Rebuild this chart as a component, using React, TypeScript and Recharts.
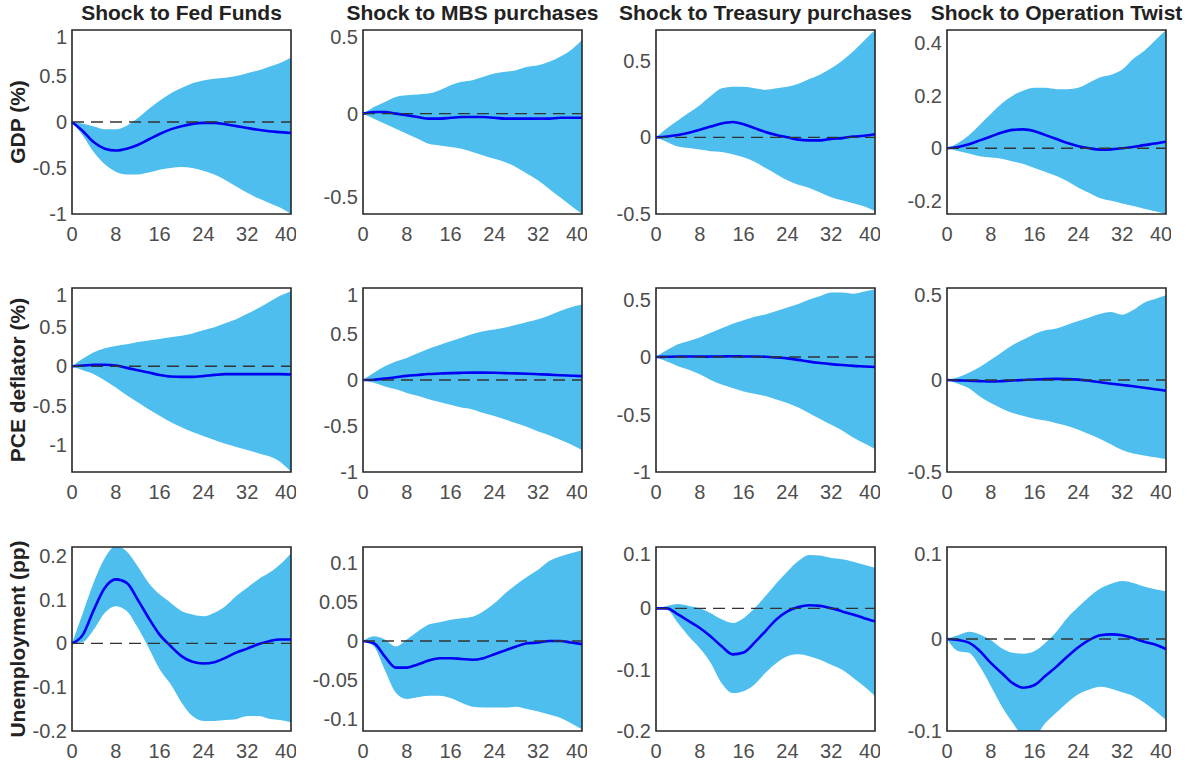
import React from "react";
import {
  ComposedChart,
  Area,
  Line,
  XAxis,
  YAxis,
  ReferenceLine,
  ReferenceArea,
} from "recharts";

// horizon in quarters (read every 2 quarters)
const quarters = [0, 2, 4, 6, 8, 10, 12, 14, 16, 18, 20, 22, 24, 26, 28, 30, 32, 34, 36, 38, 40];
const xTicks = [0, 8, 16, 24, 32, 40];

const shocks = [
  "Shock to Fed Funds",
  "Shock to MBS purchases",
  "Shock to Treasury purchases",
  "Shock to Operation Twist",
];
const variables = ["GDP (%)", "PCE deflator (%)", "Unemployment (pp)"];

// GDP
const gdpFedMid = [0, -0.1, -0.22, -0.29, -0.31, -0.29, -0.25, -0.19, -0.13, -0.08, -0.045, -0.02, -0.01, -0.01, -0.025, -0.045, -0.065, -0.085, -0.1, -0.11, -0.12];
const gdpFedHi = [0, -0.02, -0.05, -0.08, -0.08, -0.04, 0.04, 0.14, 0.23, 0.31, 0.37, 0.42, 0.45, 0.47, 0.48, 0.5, 0.53, 0.56, 0.6, 0.64, 0.7];
const gdpFedLo = [0, -0.15, -0.33, -0.46, -0.54, -0.57, -0.57, -0.55, -0.52, -0.5, -0.49, -0.5, -0.53, -0.57, -0.63, -0.7, -0.77, -0.83, -0.88, -0.93, -1.0];

const gdpMbsMid = [0, 0.01, 0.01, 0.0, -0.01, -0.02, -0.03, -0.03, -0.025, -0.02, -0.02, -0.02, -0.025, -0.03, -0.03, -0.03, -0.03, -0.03, -0.025, -0.025, -0.025];
const gdpMbsHi = [0, 0.04, 0.07, 0.1, 0.11, 0.115, 0.12, 0.14, 0.17, 0.19, 0.2, 0.22, 0.24, 0.25, 0.26, 0.28, 0.29, 0.31, 0.34, 0.38, 0.44];
const gdpMbsLo = [0, -0.03, -0.06, -0.09, -0.12, -0.15, -0.18, -0.19, -0.2, -0.21, -0.23, -0.25, -0.27, -0.29, -0.32, -0.36, -0.4, -0.45, -0.5, -0.55, -0.6];

const gdpTsyMid = [0, 0.005, 0.015, 0.03, 0.05, 0.07, 0.09, 0.1, 0.085, 0.06, 0.035, 0.015, 0.0, -0.015, -0.02, -0.02, -0.01, -0.005, 0.005, 0.01, 0.02];
const gdpTsyHi = [0, 0.06, 0.11, 0.16, 0.21, 0.27, 0.32, 0.33, 0.33, 0.32, 0.31, 0.32, 0.33, 0.35, 0.38, 0.41, 0.45, 0.5, 0.56, 0.63, 0.7];
const gdpTsyLo = [0, -0.03, -0.06, -0.07, -0.08, -0.09, -0.095, -0.11, -0.13, -0.16, -0.2, -0.24, -0.28, -0.31, -0.33, -0.36, -0.39, -0.41, -0.43, -0.45, -0.48];

const gdpTwistMid = [0, 0.005, 0.015, 0.03, 0.045, 0.06, 0.07, 0.072, 0.065, 0.05, 0.035, 0.02, 0.008, 0.0, -0.005, -0.004, 0.0, 0.005, 0.012, 0.018, 0.025];
const gdpTwistHi = [0, 0.02, 0.05, 0.09, 0.13, 0.17, 0.2, 0.22, 0.23, 0.23, 0.225, 0.225, 0.23, 0.25, 0.27, 0.28, 0.3, 0.34, 0.37, 0.41, 0.45];
const gdpTwistLo = [0, -0.01, -0.02, -0.03, -0.035, -0.04, -0.05, -0.06, -0.075, -0.09, -0.105, -0.125, -0.15, -0.17, -0.19, -0.2, -0.21, -0.22, -0.23, -0.24, -0.25];

// PCE deflator
const pceFedMid = [0, 0.01, 0.02, 0.02, 0.01, -0.02, -0.05, -0.08, -0.11, -0.13, -0.135, -0.135, -0.125, -0.11, -0.1, -0.1, -0.1, -0.1, -0.1, -0.1, -0.105];
const pceFedHi = [0, 0.1, 0.18, 0.23, 0.26, 0.28, 0.31, 0.33, 0.35, 0.37, 0.39, 0.42, 0.46, 0.5, 0.55, 0.6, 0.67, 0.74, 0.82, 0.9, 0.96];
const pceFedLo = [0, -0.05, -0.1, -0.18, -0.27, -0.37, -0.46, -0.55, -0.63, -0.71, -0.78, -0.84, -0.89, -0.94, -0.99, -1.03, -1.07, -1.11, -1.15, -1.22, -1.35];

const pceMbsMid = [0, 0.003, 0.015, 0.03, 0.045, 0.055, 0.065, 0.07, 0.075, 0.078, 0.08, 0.08, 0.078, 0.075, 0.072, 0.068, 0.063, 0.058, 0.052, 0.047, 0.042];
const pceMbsHi = [0, 0.08, 0.15, 0.2, 0.24, 0.29, 0.34, 0.38, 0.42, 0.46, 0.5, 0.53, 0.55, 0.57, 0.6, 0.63, 0.66, 0.7, 0.75, 0.79, 0.82];
const pceMbsLo = [0, -0.03, -0.07, -0.1, -0.14, -0.17, -0.21, -0.24, -0.27, -0.3, -0.32, -0.36, -0.39, -0.43, -0.47, -0.51, -0.56, -0.6, -0.65, -0.7, -0.76];

const pceTsyMid = [0, 0.002, 0.004, 0.005, 0.003, 0.004, 0.005, 0.006, 0.005, 0.004, 0.002, -0.005, -0.012, -0.025, -0.04, -0.052, -0.062, -0.07, -0.077, -0.082, -0.087];
const pceTsyHi = [0, 0.06, 0.11, 0.14, 0.17, 0.21, 0.25, 0.29, 0.32, 0.35, 0.37, 0.4, 0.43, 0.46, 0.5, 0.53, 0.56, 0.56, 0.55, 0.57, 0.59];
const pceTsyLo = [0, -0.04, -0.08, -0.11, -0.15, -0.2, -0.24, -0.27, -0.3, -0.32, -0.34, -0.37, -0.4, -0.44, -0.49, -0.54, -0.59, -0.64, -0.7, -0.75, -0.8];

const pceTwistMid = [0, -0.002, -0.004, -0.006, -0.008, -0.006, -0.003, 0.0, 0.003, 0.005, 0.006, 0.005, 0.002, -0.004, -0.012, -0.02, -0.027, -0.034, -0.042, -0.05, -0.058];
const pceTwistHi = [0, 0.015, 0.04, 0.07, 0.11, 0.15, 0.19, 0.22, 0.25, 0.27, 0.28, 0.3, 0.32, 0.34, 0.36, 0.37, 0.355, 0.38, 0.42, 0.44, 0.46];
const pceTwistLo = [0, -0.02, -0.045, -0.09, -0.125, -0.155, -0.18, -0.195, -0.21, -0.22, -0.235, -0.25, -0.27, -0.295, -0.32, -0.35, -0.38, -0.4, -0.41, -0.42, -0.43];

// Unemployment
const unFedMid = [0, 0.02, 0.077, 0.127, 0.146, 0.138, 0.1, 0.058, 0.02, -0.006, -0.029, -0.042, -0.046, -0.043, -0.033, -0.021, -0.012, -0.002, 0.005, 0.009, 0.009];
const unFedHi = [0, 0.07, 0.14, 0.195, 0.222, 0.21, 0.176, 0.138, 0.112, 0.093, 0.074, 0.066, 0.062, 0.07, 0.085, 0.108, 0.127, 0.146, 0.161, 0.18, 0.206];
const unFedLo = [0, 0.003, 0.032, 0.07, 0.085, 0.074, 0.036, -0.01, -0.059, -0.093, -0.135, -0.166, -0.177, -0.177, -0.175, -0.173, -0.166, -0.166, -0.172, -0.175, -0.18];

const unMbsMid = [0, -0.003, -0.02, -0.034, -0.034, -0.03, -0.025, -0.022, -0.022, -0.023, -0.024, -0.022, -0.017, -0.012, -0.007, -0.003, -0.002, 0, 0, -0.002, -0.004];
const unMbsHi = [0, 0.006, 0.002, -0.007, 0.002, 0.012, 0.021, 0.024, 0.027, 0.029, 0.031, 0.038, 0.048, 0.061, 0.072, 0.082, 0.091, 0.102, 0.108, 0.112, 0.116];
const unMbsLo = [0, -0.007, -0.037, -0.066, -0.074, -0.072, -0.07, -0.07, -0.073, -0.079, -0.084, -0.085, -0.085, -0.085, -0.084, -0.087, -0.09, -0.094, -0.098, -0.105, -0.113];

const unTsyMid = [0, 0, -0.01, -0.021, -0.032, -0.046, -0.062, -0.075, -0.072, -0.056, -0.037, -0.018, -0.005, 0.002, 0.005, 0.004, 0.0, -0.005, -0.01, -0.016, -0.021];
const unTsyHi = [0, 0.004, 0.007, 0.004, 0.0, -0.008, -0.018, -0.024, -0.016, 0.0, 0.02, 0.041, 0.06, 0.077, 0.087, 0.086, 0.082, 0.08, 0.076, 0.071, 0.066];
const unTsyLo = [0, -0.002, -0.024, -0.046, -0.065, -0.089, -0.122, -0.138, -0.135, -0.124, -0.105, -0.089, -0.078, -0.075, -0.078, -0.084, -0.092, -0.1, -0.113, -0.127, -0.143];

const unTwistMid = [0, -0.001, -0.004, -0.013, -0.026, -0.037, -0.048, -0.053, -0.05, -0.04, -0.03, -0.019, -0.009, -0.001, 0.004, 0.005, 0.004, 0.001, -0.003, -0.006, -0.011];
const unTwistHi = [0, 0.004, 0.008, 0.005, -0.001, -0.01, -0.015, -0.016, -0.013, -0.004, 0.008, 0.023, 0.035, 0.046, 0.055, 0.06, 0.063, 0.061, 0.057, 0.054, 0.052];
const unTwistLo = [0, -0.013, -0.015, -0.03, -0.051, -0.073, -0.091, -0.105, -0.105, -0.091, -0.08, -0.069, -0.06, -0.055, -0.052, -0.054, -0.058, -0.062, -0.069, -0.078, -0.088];

type Panel = {
  mid: number[];
  lo: number[];
  hi: number[];
  domain: [number, number];
  ticks: number[];
};

const panels: Panel[][] = [
  [
    { mid: gdpFedMid, lo: gdpFedLo, hi: gdpFedHi, domain: [-1, 1], ticks: [-1, -0.5, 0, 0.5, 1] },
    { mid: gdpMbsMid, lo: gdpMbsLo, hi: gdpMbsHi, domain: [-0.6, 0.5], ticks: [-0.5, 0, 0.5] },
    { mid: gdpTsyMid, lo: gdpTsyLo, hi: gdpTsyHi, domain: [-0.5, 0.7], ticks: [-0.5, 0, 0.5] },
    { mid: gdpTwistMid, lo: gdpTwistLo, hi: gdpTwistHi, domain: [-0.25, 0.45], ticks: [-0.2, 0, 0.2, 0.4] },
  ],
  [
    { mid: pceFedMid, lo: pceFedLo, hi: pceFedHi, domain: [-1.35, 1], ticks: [-1, -0.5, 0, 0.5, 1] },
    { mid: pceMbsMid, lo: pceMbsLo, hi: pceMbsHi, domain: [-1, 1], ticks: [-1, -0.5, 0, 0.5, 1] },
    { mid: pceTsyMid, lo: pceTsyLo, hi: pceTsyHi, domain: [-1, 0.6], ticks: [-1, -0.5, 0, 0.5] },
    { mid: pceTwistMid, lo: pceTwistLo, hi: pceTwistHi, domain: [-0.5, 0.5], ticks: [-0.5, 0, 0.5] },
  ],
  [
    { mid: unFedMid, lo: unFedLo, hi: unFedHi, domain: [-0.2, 0.22], ticks: [-0.2, -0.1, 0, 0.1, 0.2] },
    { mid: unMbsMid, lo: unMbsLo, hi: unMbsHi, domain: [-0.115, 0.12], ticks: [-0.1, -0.05, 0, 0.05, 0.1] },
    { mid: unTsyMid, lo: unTsyLo, hi: unTsyHi, domain: [-0.2, 0.1], ticks: [-0.2, -0.1, 0, 0.1] },
    { mid: unTwistMid, lo: unTwistLo, hi: unTwistHi, domain: [-0.1, 0.1], ticks: [-0.1, 0, 0.1] },
  ],
];

const boxLeft = [72, 363, 656, 947];
const boxTop = [30, 288, 547];
const boxW = 219;
const boxH = 184;
const axisW = 60;
const axisH = 40;

const font = "'Liberation Sans', Arial, Helvetica, sans-serif";
const bandColor = "#4DBEEE";
const lineColor = "#0000F5";

function Irf({ p, left, top }: { p: Panel; left: number; top: number }) {
  const data = quarters.map((q, i) => ({ q, mid: p.mid[i], band: [p.lo[i], p.hi[i]] }));
  return (
    <div style={{ position: "absolute", left: left - axisW, top: top - 5 }}>
      <ComposedChart
        width={boxW + axisW + 5}
        height={boxH + axisH + 5}
        data={data}
        margin={{ top: 5, right: 5, left: 0, bottom: 0 }}
      >
        <XAxis
          dataKey="q"
          type="number"
          domain={[0, 40]}
          ticks={xTicks}
          height={axisH}
          axisLine={false}
          tickLine={false}
          tickSize={0}
          tickMargin={13}
          tick={{ fill: "#4d4d4d", fontSize: 20, fontFamily: font }}
        />
        <YAxis
          type="number"
          domain={p.domain}
          ticks={p.ticks}
          allowDataOverflow
          width={axisW}
          axisLine={false}
          tickLine={false}
          tickSize={0}
          tickMargin={5}
          tick={{ fill: "#4d4d4d", fontSize: 20, fontFamily: font }}
        />
        <Area
          dataKey="band"
          type="monotone"
          fill={bandColor}
          fillOpacity={1}
          stroke="none"
          isAnimationActive={false}
        />
        <Line
          dataKey="mid"
          type="monotone"
          stroke={lineColor}
          strokeWidth={2.6}
          dot={false}
          isAnimationActive={false}
        />
        <ReferenceLine y={0} stroke="#333" strokeWidth={1.4} strokeDasharray="12 7" />
        <ReferenceArea
          x1={0}
          x2={40}
          y1={p.domain[0]}
          y2={p.domain[1]}
          fill="none"
          stroke="#262626"
          strokeWidth={1.6}
          ifOverflow="visible"
        />
      </ComposedChart>
    </div>
  );
}

export default function App() {
  return (
    <div
      style={{
        position: "absolute",
        left: 0,
        top: 0,
        width: 1187,
        height: 762,
        background: "#fff",
        fontFamily: font,
      }}
    >
      {shocks.map((s, c) => (
        <div
          key={s}
          style={{
            position: "absolute",
            left: boxLeft[c] + boxW / 2 - 200,
            width: 400,
            top: 1,
            textAlign: "center",
            fontSize: 21,
            fontWeight: "bold",
            color: "#222",
            lineHeight: "24px",
            whiteSpace: "nowrap",
          }}
        >
          {s}
        </div>
      ))}
      {variables.map((v, r) => (
        <div
          key={v}
          style={{
            position: "absolute",
            left: 18,
            top: boxTop[r] + boxH / 2,
            transform: "translate(-50%, -50%) rotate(-90deg)",
            fontSize: 21,
            fontWeight: "bold",
            color: "#222",
            whiteSpace: "nowrap",
            lineHeight: "24px",
          }}
        >
          {v}
        </div>
      ))}
      {panels.map((row, r) =>
        row.map((p, c) => <Irf key={`${r}-${c}`} p={p} left={boxLeft[c]} top={boxTop[r]} />)
      )}
    </div>
  );
}
